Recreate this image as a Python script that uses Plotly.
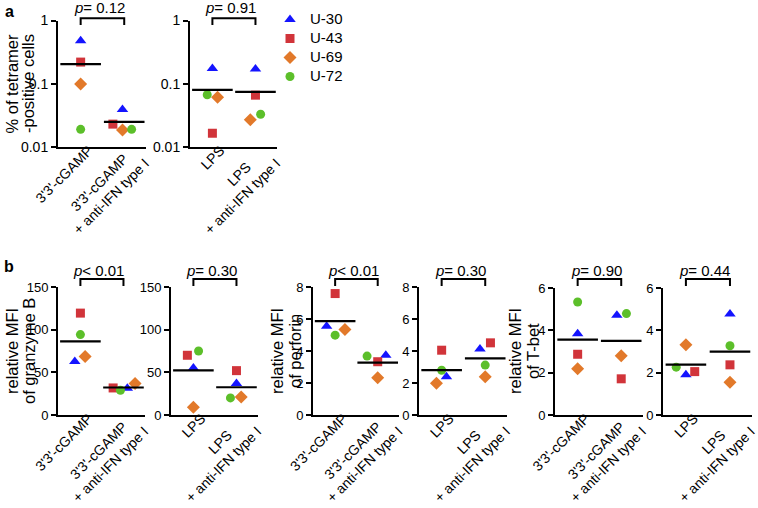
import plotly.graph_objects as go

W, H = 758, 508
FONT = "Liberation Sans, Arial, sans-serif"
NB = "\u00a0"

donors = ["U-30", "U-43", "U-69", "U-72"]
symbols = ["triangle-up", "square", "diamond", "circle"]
colors = ["#1414ff", "#d1343a", "#e2792a", "#5cbf2a"]
sizes = [10, 9, 10, 9]

cgamp_labels = ["3'3'-cGAMP", "3'3'-cGAMP" + NB * 3 + "<br>+ anti-IFN type I"]
lps_labels = ["LPS", "LPS" + NB * 6 + "<br>+ anti-IFN type I"]

# values per donor (order U-30, U-43, U-69, U-72)
tetramer_cgamp = [0.48, 0.22, 0.099, 0.019]
tetramer_cgamp_anti = [0.039, 0.023, 0.0186, 0.019]
tetramer_lps = [0.175, 0.0165, 0.061, 0.067]
tetramer_lps_anti = [0.171, 0.066, 0.027, 0.033]

granzyme_cgamp = [62.8, 119.4, 68.6, 94.2]
granzyme_cgamp_anti = [31.4, 31.7, 36.9, 29.0]
granzyme_lps = [55.0, 70.0, 9.0, 75.0]
granzyme_lps_anti = [37.0, 52.0, 21.0, 20.0]

perforin_cgamp = [5.55, 7.59, 5.34, 4.99]
perforin_cgamp_anti = [3.74, 3.33, 2.33, 3.68]
perforin_lps = [2.39, 4.05, 1.98, 2.80]
perforin_lps_anti = [4.12, 4.51, 2.39, 3.12]

tbet_cgamp = [3.84, 2.87, 2.18, 5.34]
tbet_cgamp_anti = [4.71, 1.71, 2.80, 4.79]
tbet_lps = [1.90, 2.05, 3.32, 2.26]
tbet_lps_anti = [4.77, 2.37, 1.55, 3.27]

p_values = ["<i>p</i>= 0.12", "<i>p</i>= 0.91", "<i>p</i>< 0.01", "<i>p</i>= 0.30",
            "<i>p</i>< 0.01", "<i>p</i>= 0.30", "<i>p</i>= 0.90", "<i>p</i>= 0.44"]

# horizontal jitter of points (category units), style only
jitter = [
    ([0, 0, 0, 0], [-0.04, -0.26, -0.04, 0.17]),
    ([0, 0, 0.12, -0.12], [0, 0, -0.12, 0.12]),
    ([-0.13, 0, 0.11, 0], [0.09, -0.24, 0.27, -0.07]),
    ([0, -0.14, 0, 0.12], [0, 0, 0.11, -0.14]),
    ([-0.2, 0, 0.23, 0], [0.19, 0, 0, -0.25]),
    ([0.11, 0, -0.12, 0], [-0.12, 0.12, 0, 0]),
    ([0, 0, 0, 0], [-0.1, 0, 0, 0.12]),
    ([0, 0.2, 0, -0.22], [0, 0, 0, 0]),
]

panels = [
    dict(g1=tetramer_cgamp, g2=tetramer_cgamp_anti, labels=cgamp_labels, px=(58, 146), py=(20.5, 147), log=True),
    dict(g1=tetramer_lps, g2=tetramer_lps_anti, labels=lps_labels, px=(190, 277), py=(20.5, 147), log=True),
    dict(g1=granzyme_cgamp, g2=granzyme_cgamp_anti, labels=cgamp_labels, px=(58, 145), py=(287, 415), rng=[0, 150], tv=[0, 50, 100, 150]),
    dict(g1=granzyme_lps, g2=granzyme_lps_anti, labels=lps_labels, px=(171, 258), py=(287, 415), rng=[0, 150], tv=[0, 50, 100, 150]),
    dict(g1=perforin_cgamp, g2=perforin_cgamp_anti, labels=cgamp_labels, px=(313, 399), py=(287, 415), rng=[0, 8], tv=[0, 2, 4, 6, 8]),
    dict(g1=perforin_lps, g2=perforin_lps_anti, labels=lps_labels, px=(419, 507), py=(287, 415), rng=[0, 8], tv=[0, 2, 4, 6, 8]),
    dict(g1=tbet_cgamp, g2=tbet_cgamp_anti, labels=cgamp_labels, px=(555, 643), py=(288, 415), rng=[0, 6], tv=[0, 2, 4, 6]),
    dict(g1=tbet_lps, g2=tbet_lps_anti, labels=lps_labels, px=(663, 752), py=(288, 415), rng=[0, 6], tv=[0, 2, 4, 6]),
]

fig = go.Figure()
shapes = []
annotations = []
layout = {}

for i, p in enumerate(panels):
    n = i + 1
    xa = "x" if n == 1 else f"x{n}"
    ya = "y" if n == 1 else f"y{n}"
    j1, j2 = jitter[i]
    for d in range(4):
        fig.add_trace(go.Scatter(
            x=[0 + j1[d], 1 + j2[d]], y=[p["g1"][d], p["g2"][d]],
            mode="markers", name=f'<span style="font-size:15px">{donors[d]}</span>',
            legendgroup=donors[d], showlegend=(i == 0),
            marker=dict(symbol=symbols[d], color=colors[d], size=sizes[d], line=dict(width=0)),
            xaxis=xa, yaxis=ya, cliponaxis=False))
    means = [sum(p["g1"]) / 4, sum(p["g2"]) / 4]
    fig.add_trace(go.Scatter(
        x=[0, 1], y=means, mode="markers", showlegend=False,
        marker=dict(symbol="line-ew", size=29, color="black", line=dict(width=2.2, color="black")),
        xaxis=xa, yaxis=ya, cliponaxis=False))

    x0, x1 = p["px"]
    yt, yb = p["py"]
    xkey = "xaxis" if n == 1 else f"xaxis{n}"
    ykey = "yaxis" if n == 1 else f"yaxis{n}"
    layout[xkey] = dict(domain=[x0 / W, x1 / W], range=[-0.52, 1.5], anchor=ya,
                        showline=True, linewidth=2, linecolor="black", ticks="",
                        tickvals=[0, 1], ticktext=p["labels"], tickangle=-45,
                        tickfont=dict(size=14, color="black"),
                        ticklabelshift=8, ticklabelstandoff=-12, ticklabeloverflow="allow",
                        showgrid=False, zeroline=False, automargin=False)
    ydict = dict(domain=[1 - yb / H, 1 - yt / H], anchor=xa, showline=True, linewidth=2,
                 linecolor="black", ticks="outside", ticklen=5, tickwidth=2, tickcolor="black",
                 showgrid=False, zeroline=False, tickfont=dict(size=13, color="black"), automargin=False)
    if p.get("log"):
        ydict.update(type="log", range=[-2, 0], tickvals=[0.01, 0.1, 1], ticktext=["0.01", "0.1", "1"],
                     tickfont=dict(size=14, color="black"))
    else:
        ydict.update(range=p["rng"], tickvals=p["tv"])
    layout[ykey] = ydict

    # bracket and p-value
    if p.get("log"):
        top, leg, ptxt = 18.3, 25, 8
    else:
        top, leg, ptxt = 279, 286, 270
    shapes.append(dict(type="path", xref=xa, yref="paper",
                       path=f"M 0,{1 - leg / H} L 0,{1 - top / H} L 1,{1 - top / H} L 1,{1 - leg / H}",
                       line=dict(color="black", width=2)))
    annotations.append(dict(text=p_values[i], xref=xa, yref="paper", x=0.5, y=1 - ptxt / H,
                            xshift=-3, showarrow=False, font=dict(size=15, color="black"),
                            xanchor="center", yanchor="middle"))

# y titles: one annotation per line (text, x centre px, y centre px)
ytitles = [
    ("% of tetramer", 11.5, 84), ("-positive cells", 28, 84),
    ("relative MFI", 12, 351), ("of granzyme B", 29, 351),
    ("relative MFI", 277, 351), ("of perforin", 295, 351),
    ("relative MFI", 515, 351), ("of T-bet", 533, 351),
]
for txt, cx, cy in ytitles:
    annotations.append(dict(text=txt, xref="paper", yref="paper", x=cx / W, y=1 - cy / H,
                            textangle=-90, showarrow=False, font=dict(size=16.5, color="black"),
                            xanchor="center", yanchor="middle"))

for letter, cx, cy in [("a", 9, 11.5), ("b", 9, 266)]:
    annotations.append(dict(text=f"<b>{letter}</b>", xref="paper", yref="paper", x=cx / W, y=1 - cy / H,
                            showarrow=False, font=dict(size=16, color="black"), borderpad=0,
                            xanchor="center", yanchor="middle"))

fig.update_layout(
    width=W, height=H, margin=dict(l=0, r=0, t=0, b=0, pad=0, autoexpand=False),
    paper_bgcolor="white", plot_bgcolor="white",
    font=dict(family=FONT, color="black"),
    legend=dict(x=270 / W, y=1 - 5 / H, xanchor="left", yanchor="top",
                font=dict(size=12, color="black"), bgcolor="rgba(0,0,0,0)",
                tracegroupgap=0, itemwidth=30),
    shapes=shapes, annotations=annotations, showlegend=True,
    **layout,
)

fig.write_html("out.html", config={"displayModeBar": False},
               post_script="document.body.style.margin='0';")
